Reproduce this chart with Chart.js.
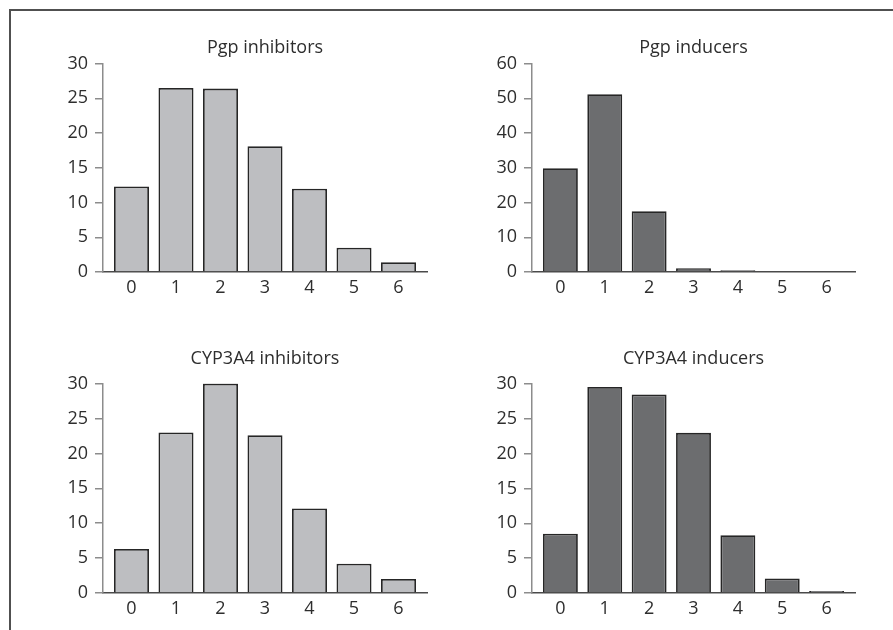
<!DOCTYPE html>
<html>
<head>
<meta charset="utf-8">
<script src="https://cdn.jsdelivr.net/npm/chart.js@4/dist/chart.umd.min.js"></script>
<style>
  html, body { margin: 0; padding: 0; background: #ffffff; width: 893px; height: 630px; overflow: hidden; }
  #frame { position: absolute; left: 9px; top: 9px; width: 900px; height: 700px; border-top: 2px solid #505050; border-left: 2px solid #505050; }
  canvas { position: absolute; }
</style>
</head>
<body>
<div id="frame"></div>
<canvas id="c1" width="400" height="279" style="left:40px;top:25px"></canvas>
<canvas id="c2" width="400" height="279" style="left:469px;top:25px"></canvas>
<canvas id="c3" width="400" height="290" style="left:40px;top:335px"></canvas>
<canvas id="c4" width="400" height="290" style="left:469px;top:335px"></canvas>
<script>
// ---- data ----
const categories = [0, 1, 2, 3, 4, 5, 6];
const pgpInhibitors = [12.3, 26.5, 26.4, 18.1, 12.0, 3.5, 1.4];
const pgpInducers = [29.9, 51.2, 17.5, 1.1, 0.5, 0.25, 0.25];
const cypInhibitors = [6.3, 23.0, 30.0, 22.6, 12.1, 4.2, 2.0];
const cypInducers = [8.5, 29.6, 28.5, 23.0, 8.3, 2.1, 0.3];
const panelTitles = ["Pgp inhibitors", "Pgp inducers", "CYP3A4 inhibitors", "CYP3A4 inducers"];
const yMaxes = [30, 60, 30, 30];
const ySteps = [5, 10, 5, 5];

const FONT = "'Open Sans', 'Noto Sans', sans-serif";
const TEXT = '#2e2e2e';
const FS = 18;

function makePanel(id, title, values, yMax, yStep, fill, g) {
  const pts = categories.map((c, i) => ({ x: c, y: values[i] }));
  new Chart(document.getElementById(id), {
    type: 'bar',
    data: {
      datasets: [{
        data: pts,
        backgroundColor: fill,
        borderColor: '#262626',
        borderWidth: 1.8,
        categoryPercentage: 1,
        barPercentage: 0.787
      }]
    },
    options: {
      responsive: false,
      devicePixelRatio: 1,
      animation: false,
      layout: { padding: { left: 0, right: g.right, top: 0, bottom: 0 } },
      plugins: {
        legend: { display: false },
        tooltip: { enabled: false },
        title: {
          display: true,
          text: title,
          fullSize: false,
          color: TEXT,
          font: { family: FONT, size: FS, weight: 'normal', lineHeight: 1.2 },
          padding: { top: g.tTop, bottom: g.tBottom }
        }
      },
      scales: {
        x: {
          type: 'linear',
          offset: false,
          min: -0.64,
          max: 6.64,
          grid: { display: false, offset: false },
          border: { display: true, color: '#4a4a4a', width: 1.6 },
          ticks: {
            stepSize: 1,
            includeBounds: false,
            color: TEXT,
            padding: g.xPad,
            font: { family: FONT, size: FS },
            maxRotation: 0,
            callback: (v) => Number.isInteger(v) ? String(v) : ''
          },
          afterFit: (s) => { s.height = 32; }
        },
        y: {
          min: 0,
          max: yMax,
          grid: { drawOnChartArea: false, drawTicks: true, tickLength: 8, color: '#8c8c8c', lineWidth: 1.5 },
          border: { display: true, color: '#8c8c8c', width: 1.5 },
          ticks: {
            stepSize: yStep,
            color: TEXT,
            padding: 7,
            font: { family: FONT, size: FS }
          },
          afterFit: (s) => { s.width = g.yw; }
        }
      }
    }
  });
}

const light = '#bdbec1';
const dark = '#6c6d6f';
makePanel('c1', panelTitles[0], pgpInhibitors, yMaxes[0], ySteps[0], light, { right: 13, tTop: 11.7, tBottom: 5.3, xPad: -3, yw: 63 });
makePanel('c2', panelTitles[1], pgpInducers, yMaxes[1], ySteps[1], dark, { right: 14, tTop: 11.7, tBottom: 5.3, xPad: -3, yw: 63 });
makePanel('c3', panelTitles[2], cypInhibitors, yMaxes[2], ySteps[2], light, { right: 13, tTop: 13.4, tBottom: 13.6, xPad: -3, yw: 63 });
makePanel('c4', panelTitles[3], cypInducers, yMaxes[3], ySteps[3], dark, { right: 14, tTop: 13.4, tBottom: 14.1, xPad: -3, yw: 63 });
</script>
</body>
</html>
